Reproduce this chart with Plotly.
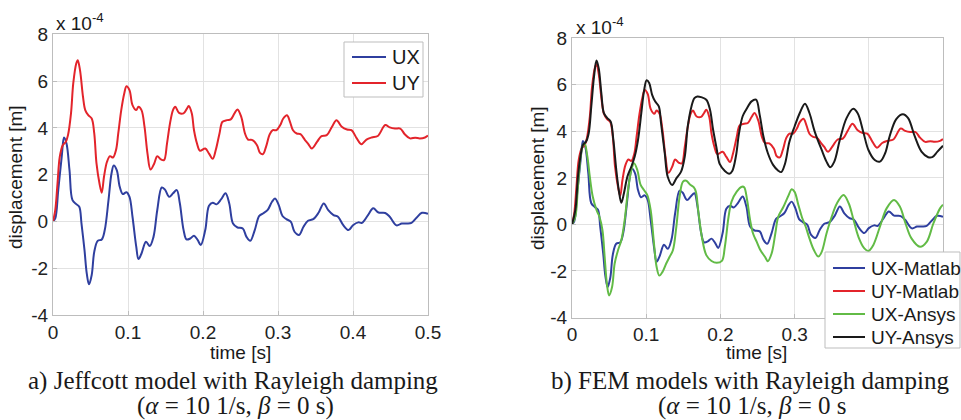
import plotly.graph_objects as go

# ---------------- data (values in units of 1e-4 m) ----------------
X_TICKS = [0, 0.1, 0.2, 0.3, 0.4, 0.5]
X_TICK_LABELS = ["0", "0.1", "0.2", "0.3", "0.4", "0.5"]
# in panel b) the 0.4 / 0.5 labels are hidden behind the legend box
N_VISIBLE_X2 = 4
Y_TICKS = [-4, -2, 0, 2, 4, 6, 8]
Y_TICK_LABELS = ["-4", "-2", "0", "2", "4", "6", "8"]

UX_MATLAB = [(0, 0), (0.003, 0.13), (0.007, 1.34), (0.0116, 2.76), (0.0147, 3.59), (0.018, 3.33),
             (0.022, 2.19), (0.026, 0.91), (0.031, 0.74), (0.035, 0.63), (0.038, -0.09), (0.042, -1.23),
             (0.045, -2.22), (0.048, -2.69), (0.0516, -2.29), (0.055, -1.30), (0.0596, -0.83), (0.065, -0.77),
             (0.069, -0.37), (0.074, 0.91), (0.078, 2.05), (0.081, 2.39), (0.085, 2.19), (0.089, 1.48),
             (0.093, 1.17), (0.098, 1.25), (0.102, 1.05), (0.106, 0.2), (0.111, -1.08), (0.114, -1.61),
             (0.118, -1.37), (0.124, -0.87), (0.129, -1.05), (0.134, -0.66), (0.139, 0.48), (0.145, 1.45),
             (0.149, 1.37), (0.155, 1.05), (0.160, 1.2), (0.165, 1.34), (0.169, 0.8), (0.174, -0.35),
             (0.178, -0.77), (0.183, -0.73), (0.188, -0.61), (0.193, -0.8), (0.197, -1.01), (0.203, -0.37),
             (0.208, 0.67), (0.213, 0.8), (0.218, 0.73), (0.224, 0.94), (0.230, 1.2), (0.235, 0.77),
             (0.240, -0.09), (0.246, -0.26), (0.253, -0.3), (0.258, -0.66), (0.263, -0.83), (0.269, -0.37),
             (0.275, 0.24), (0.280, 0.34), (0.286, 0.48), (0.292, 0.84), (0.296, 0.98), (0.301, 0.7),
             (0.306, 0.23), (0.311, 0.1), (0.317, -0.01), (0.322, -0.44), (0.328, -0.58), (0.334, -0.23),
             (0.340, 0.03), (0.347, 0.1), (0.354, 0.37), (0.361, 0.77), (0.367, 0.48), (0.374, 0.27),
             (0.380, 0.2), (0.387, -0.16), (0.394, -0.37), (0.400, -0.16), (0.407, -0.04), (0.412, -0.06),
             (0.420, 0.27), (0.427, 0.56), (0.434, 0.38), (0.443, 0.36), (0.449, 0.2), (0.458, -0.17),
             (0.465, -0.09), (0.472, -0.09), (0.478, -0.06), (0.485, 0.17), (0.492, 0.37), (0.500, 0.33)]

UY_MATLAB = [(0, 0), (0.003, 0.48), (0.006, 1.62), (0.009, 2.76), (0.013, 3.26), (0.017, 3.4),
             (0.020, 3.69), (0.024, 4.62), (0.027, 5.9), (0.031, 6.75), (0.033, 6.89), (0.036, 6.47),
             (0.040, 5.33), (0.043, 4.76), (0.047, 4.54), (0.0516, 4.4), (0.055, 3.76), (0.058, 2.48),
             (0.062, 1.62), (0.065, 1.23), (0.068, 1.91), (0.072, 2.55), (0.076, 2.79), (0.080, 2.73),
             (0.084, 3.05), (0.087, 3.76), (0.091, 4.76), (0.095, 5.47), (0.098, 5.78), (0.102, 5.61),
             (0.106, 4.97), (0.111, 4.76), (0.114, 4.9), (0.118, 4.76), (0.122, 4.05), (0.126, 2.9),
             (0.130, 2.22), (0.135, 2.48), (0.139, 2.79), (0.144, 2.65), (0.148, 2.62), (0.152, 3.33),
             (0.156, 4.19), (0.160, 4.76), (0.163, 4.9), (0.168, 4.64), (0.174, 4.62), (0.178, 4.79),
             (0.181, 4.93), (0.185, 4.62), (0.188, 3.9), (0.192, 3.33), (0.196, 3.02), (0.203, 3.12),
             (0.208, 2.9), (0.213, 2.68), (0.217, 3.05), (0.222, 3.76), (0.226, 4.26), (0.232, 4.33),
             (0.237, 4.36), (0.242, 4.62), (0.246, 4.79), (0.251, 4.47), (0.256, 3.76), (0.260, 3.5),
             (0.266, 3.48), (0.272, 3.26), (0.276, 2.93), (0.280, 2.88), (0.284, 3.19), (0.289, 3.73),
             (0.293, 3.9), (0.298, 3.9), (0.303, 4.12), (0.307, 4.4), (0.312, 4.54), (0.316, 4.26),
             (0.320, 3.9), (0.325, 3.76), (0.330, 3.73), (0.336, 3.48), (0.340, 3.33), (0.345, 3.12),
             (0.352, 3.4), (0.358, 3.65), (0.365, 3.69), (0.372, 4.05), (0.378, 4.33), (0.385, 4.05),
             (0.392, 3.93), (0.398, 3.9), (0.405, 3.55), (0.411, 3.3), (0.418, 3.5), (0.425, 3.59),
             (0.433, 3.65), (0.443, 4.12), (0.449, 4.02), (0.456, 3.97), (0.463, 3.97), (0.469, 3.73),
             (0.476, 3.55), (0.483, 3.58), (0.489, 3.55), (0.496, 3.59), (0.500, 3.67)]

UX_ANSYS = [(0, 0), (0.0045, 0.33), (0.008, 1.62), (0.0117, 2.92), (0.0148, 3.42), (0.017, 3.49),
            (0.0207, 2.92), (0.024, 2.05), (0.028, 1.19), (0.033, 0.62), (0.037, 0.33), (0.041, -0.24),
            (0.044, -1.39), (0.047, -2.54), (0.050, -3.05), (0.054, -2.69), (0.0575, -1.68), (0.062, -1.11),
            (0.0665, -0.68), (0.071, 0.19), (0.0755, 1.48), (0.080, 2.34), (0.0836, 2.63), (0.088, 2.34),
            (0.0925, 1.7), (0.097, 1.48), (0.1015, 1.26), (0.106, 0.62), (0.1105, -0.82), (0.114, -1.82),
            (0.1177, -2.2), (0.122, -2.04), (0.127, -1.68), (0.1316, -1.39), (0.136, -1.11), (0.1406, -0.1),
            (0.145, 1.19), (0.1496, 1.84), (0.154, 1.88), (0.159, 1.72), (0.164, 1.6), (0.167, 1.4),
            (0.170, 0.62), (0.175, -0.53), (0.181, -1.32), (0.188, -1.57), (0.195, -1.65), (0.202, -1.57),
            (0.206, -0.96), (0.211, 0.33), (0.215, 0.98), (0.222, 1.41), (0.229, 1.62), (0.232, 1.6),
            (0.236, 1.05), (0.240, 0.19), (0.244, -0.39), (0.249, -0.75), (0.254, -1.11), (0.260, -1.39),
            (0.264, -1.58), (0.269, -1.25), (0.274, -0.39), (0.278, 0.33), (0.285, 0.76), (0.292, 1.26),
            (0.296, 1.51), (0.300, 1.4), (0.305, 0.85), (0.310, 0.3), (0.315, -0.1), (0.320, -0.6),
            (0.326, -1.1), (0.332, -1.38), (0.3365, -1.18), (0.343, -0.39), (0.350, 0.33), (0.357, 0.9),
            (0.366, 1.26), (0.373, 0.9), (0.3795, 0.19), (0.386, -0.53), (0.394, -1.03), (0.3995, -1.14),
            (0.406, -0.89), (0.415, -0.1), (0.424, 0.69), (0.434, 1.05), (0.442, 0.76), (0.4495, 0.04),
            (0.4575, -0.6), (0.469, -0.96), (0.478, -0.75), (0.487, 0.04), (0.496, 0.69), (0.500, 0.85)]

UY_ANSYS = [(0, 0), (0.0045, 0.62), (0.008, 2.05), (0.0117, 2.99), (0.0148, 3.42), (0.019, 3.56),
            (0.0225, 3.92), (0.026, 5.07), (0.0297, 6.36), (0.033, 7.05), (0.036, 6.72), (0.0395, 5.65),
            (0.043, 4.78), (0.0476, 4.57), (0.052, 4.43), (0.0557, 3.64), (0.0597, 2.34), (0.063, 1.48),
            (0.0665, 0.93), (0.070, 1.34), (0.0746, 2.05), (0.080, 2.49), (0.0845, 2.92), (0.089, 3.64),
            (0.0934, 4.78), (0.097, 5.72), (0.1006, 6.2), (0.104, 6.08), (0.108, 5.57), (0.112, 5.29),
            (0.117, 5.07), (0.120, 4.35), (0.125, 3.06), (0.129, 2.05), (0.135, 1.7), (0.1406, 1.98),
            (0.147, 2.27), (0.152, 2.92), (0.156, 4.21), (0.161, 5.07), (0.165, 5.43), (0.169, 5.5),
            (0.174, 5.47), (0.181, 5.36), (0.186, 4.93), (0.190, 4.1), (0.195, 3.25), (0.199, 2.6),
            (0.206, 2.3), (0.212, 2.18), (0.216, 2.3), (0.221, 2.95), (0.225, 3.9), (0.230, 4.65),
            (0.235, 4.95), (0.242, 5.29), (0.248, 5.36), (0.253, 4.7), (0.258, 3.78), (0.264, 3.06),
            (0.271, 2.56), (0.278, 2.31), (0.282, 2.25), (0.287, 2.6), (0.293, 3.55), (0.300, 4.21),
            (0.307, 4.79), (0.314, 5.19), (0.320, 4.79), (0.327, 4.0), (0.3365, 3.2), (0.343, 2.7),
            (0.348, 2.46), (0.3535, 2.7), (0.361, 3.64), (0.370, 4.57), (0.379, 4.97), (0.385, 4.78),
            (0.393, 3.92), (0.3995, 3.2), (0.408, 2.77), (0.415, 2.7), (0.422, 3.06), (0.428, 3.78),
            (0.437, 4.53), (0.446, 4.74), (0.453, 4.57), (0.462, 3.78), (0.471, 3.13), (0.480, 2.89),
            (0.4855, 2.89), (0.4925, 3.13), (0.500, 3.38)]

# ---------------- layout helpers ----------------
W, H = 961, 420
BLUE, RED, GREEN, BLACK = "#2f3f9f", "#e3242b", "#62bb46", "#1a1a1a"
SANS = "Liberation Sans, Arial, sans-serif"
SERIF = "Liberation Serif, Times New Roman, serif"
FRAME = "#bdbdbd"
GRID = "#e2e2e2"


def px(x):
    return x / W


def py(y):
    return 1 - y / H


def split(pts):
    return [p[0] for p in pts], [p[1] for p in pts]


fig = go.Figure()


def add(series, name, color, xa, ya):
    t, v = split(series)
    fig.add_trace(go.Scatter(x=t, y=v, mode="lines", name=name, showlegend=False,
                             line=dict(color=color, width=2, shape="spline", smoothing=1.0),
                             xaxis=xa, yaxis=ya))


add(UX_MATLAB, "UX", BLUE, "x", "y")
add(UY_MATLAB, "UY", RED, "x", "y")
add(UX_MATLAB, "UX-Matlab", BLUE, "x2", "y2")
add(UY_MATLAB, "UY-Matlab", RED, "x2", "y2")
add(UX_ANSYS, "UX-Ansys", GREEN, "x2", "y2")
add(UY_ANSYS, "UY-Ansys", BLACK, "x2", "y2")

axis_common = dict(showline=True, mirror=True, linecolor=FRAME, linewidth=1,
                   showgrid=True, gridcolor=GRID, gridwidth=1, zeroline=False,
                   ticks="inside", ticklen=4, tickcolor=FRAME, automargin=False,
                   tickfont=dict(family=SANS, size=19, color="#222222"))

fig.update_layout(
    width=W, height=H, margin=dict(l=0, r=0, t=0, b=0, autoexpand=False),
    paper_bgcolor="white", plot_bgcolor="white", showlegend=False,
    xaxis=dict(domain=[px(53), px(428)], range=[0, 0.5], anchor="y",
               tickvals=X_TICKS, ticktext=X_TICK_LABELS, **axis_common),
    yaxis=dict(domain=[py(315), py(34.3)], range=[-4, 8], anchor="x",
               tickvals=Y_TICKS, ticktext=Y_TICK_LABELS, **axis_common),
    xaxis2=dict(domain=[px(572), px(943)], range=[0, 0.5], anchor="y2",
                tickvals=X_TICKS[:N_VISIBLE_X2], ticktext=X_TICK_LABELS[:N_VISIBLE_X2],
                minor=dict(tickvals=X_TICKS, showgrid=True, gridcolor=GRID, gridwidth=1,
                           ticks="inside", ticklen=4, tickcolor=FRAME),
                **axis_common),
    yaxis2=dict(domain=[py(317.5), py(38.3)], range=[-4, 8], anchor="x2",
                tickvals=Y_TICKS, ticktext=Y_TICK_LABELS, **axis_common),
)


def note(text, x, y, size, family=SANS, angle=0, xanchor="center", yanchor="middle"):
    fig.add_annotation(text=text, x=px(x), y=py(y), xref="paper", yref="paper",
                       showarrow=False, textangle=angle, xanchor=xanchor, yanchor=yanchor,
                       font=dict(family=family, size=size, color="#1a1a1a"))


def legend_box(x0, y0, x1, y1, entries, y_first, step, line_x0, line_x1, size):
    fig.add_shape(type="rect", xref="paper", yref="paper", x0=px(x0), x1=px(x1), y0=py(y0), y1=py(y1),
                  fillcolor="white", line=dict(color=FRAME, width=1), layer="above")
    for i, tr in enumerate(entries):
        yy = y_first + i * step
        fig.add_shape(type="line", xref="paper", yref="paper", x0=px(line_x0), x1=px(line_x1),
                      y0=py(yy), y1=py(yy), line=dict(color=tr.line.color, width=2), layer="above")
        note(tr.name, line_x1 + 4, yy, size, xanchor="left")


# legends (entries taken from the traces themselves)
legend_box(344, 42, 423, 97, fig.data[0:2], 57, 26, 352, 386, 20)
legend_box(825, 252, 960, 348, fig.data[2:6], 268, 23, 833, 865, 19)

# exponent labels
note("x 10<sup>-4</sup>", 54, 22, 19, xanchor="left")
note("x 10<sup>-4</sup>", 574, 26, 19, xanchor="left")
# axis titles
note("displacement [m]", 15, 177, 19, angle=-90)
note("displacement [m]", 537, 178, 19, angle=-90)
note("time [s]", 240, 352, 19)
note("time [s]", 756, 352, 19)
# captions
note("a) Jeffcott model with Rayleigh damping", 233, 381, 25, family=SERIF)
note("(<i>α</i> = 10 1/s, <i>β</i> = 0 s)", 235, 406, 25, family=SERIF)
note("b) FEM models with Rayleigh damping", 750, 381, 25, family=SERIF)
note("(<i>α</i> = 10 1/s, <i>β</i> = 0 s", 752, 406, 25, family=SERIF)

fig.write_html("out.html", config={"displayModeBar": False},
               post_script="document.body.style.margin='0';document.body.style.padding='0';"
                           "document.body.style.overflow='hidden';")
